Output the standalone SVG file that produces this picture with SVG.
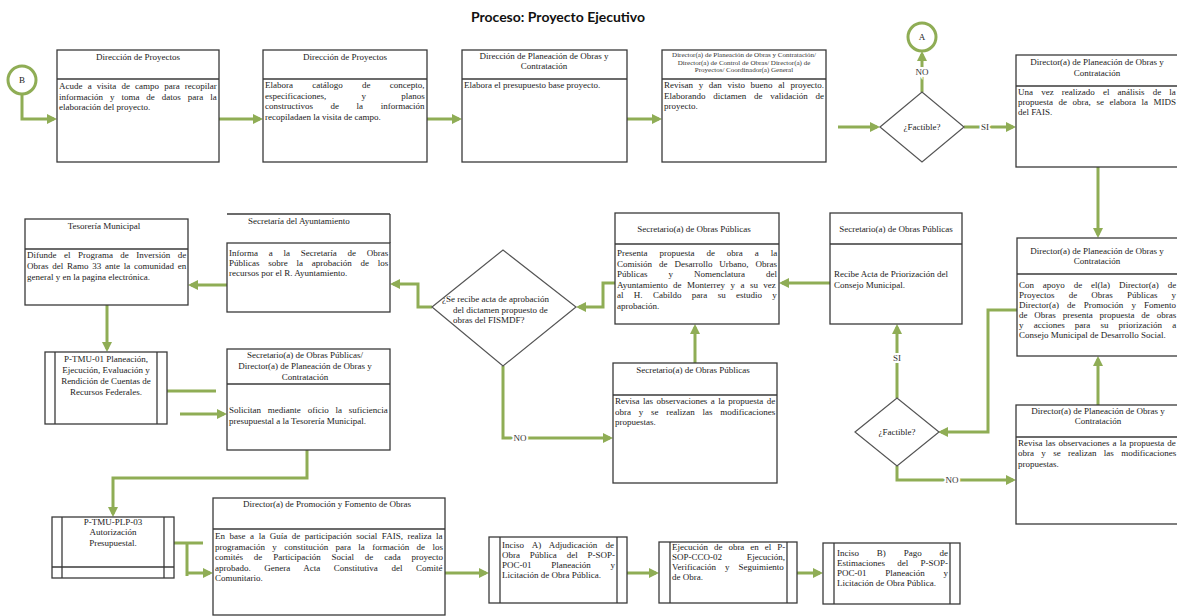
<svg xmlns="http://www.w3.org/2000/svg" width="1177" height="616" viewBox="0 0 1177 616">
<style>
.bx{fill:#fff;stroke:#3a3a3a;stroke-width:1.3}
.ln{fill:none;stroke:#3a3a3a;stroke-width:1.3}
.dm{fill:#fff;stroke:#555;stroke-width:1.2}
.cc{fill:#fff;stroke:#8fad55;stroke-width:3}
.h{font-family:"Liberation Serif",serif;font-size:9px;fill:#222;text-anchor:middle}
.hs{font-family:"Liberation Serif",serif;font-size:7px;fill:#333;text-anchor:middle}
.b{font-family:"Liberation Serif",serif;font-size:9px;fill:#222}
.m{font-family:"Liberation Serif",serif;font-size:9px;fill:#222;text-anchor:middle}
.c{fill:none;stroke:#8fad55;stroke-width:3;stroke-linejoin:miter}
.a{marker-end:url(#ah)}
.lb{font-family:"Liberation Serif",serif;font-size:9px;fill:#333;text-anchor:middle;dominant-baseline:central;stroke:#fff;stroke-width:4;paint-order:stroke}
</style>
<defs>
<marker id="ah" viewBox="0 0 10 10" refX="7" refY="5" markerWidth="10" markerHeight="10" markerUnits="userSpaceOnUse" orient="auto">
<path d="M0,0 L10,5 L0,10 z" fill="#8fad55"/>
</marker>
</defs>
<rect width="1177" height="616" fill="#fff"/>
<text x="558" y="22" text-anchor="middle" font-family="Lato,'Liberation Sans',sans-serif" font-weight="bold" font-size="14" fill="#111">Proceso: Proyecto Ejecutivo</text>

<g id="connectors">
<path class="c a" d="M22,94 V119 H54"/>
<path class="c a" d="M219,119 H260"/>
<path class="c a" d="M427,119 H459"/>
<path class="c a" d="M627,119 H659"/>
<path class="c a" d="M838,127 H877"/>
<path class="c a" d="M922,92 V54"/>
<path class="c a" d="M964,127 H1013"/>
<path class="c a" d="M1098,167 V235"/>
<path class="c a" d="M1098,405 V359"/>
<path class="c a" d="M1017,310 H988 V432 H941"/>
<path class="c a" d="M897,398 V327"/>
<path class="c a" d="M897,466 V480 H1013"/>
<path class="c a" d="M830,283 H782"/>
<path class="c a" d="M695,363 V327"/>
<path class="c a" d="M615,283 H603 V307 H579"/>
<path class="c a" d="M432,307 H418 V284 H393"/>
<path class="c a" d="M503,366 V438 H610"/>
<path class="c a" d="M227,285 H191"/>
<path class="c a" d="M107,305 V349"/>
<path class="c" d="M167,391 H216"/>
<path class="c a" d="M180,414 H224"/>
<path class="c a" d="M307,450 V478 H113 V514"/>
<path class="c" d="M174,543 H203 M187,543 V576"/>
<path class="c a" d="M187,573 H210"/>
<path class="c a" d="M445,573 H486"/>
<path class="c a" d="M627,573 H656"/>
<path class="c a" d="M797,573 H820"/>
<text class="lb" x="922" y="72">NO</text>
<text class="lb" x="985" y="127">SI</text>
<text class="lb" x="897" y="358">SI</text>
<text class="lb" x="952" y="480">NO</text>
<text class="lb" x="520" y="438">NO</text>
</g>

<g id="circleB"><circle class="cc" cx="22" cy="80" r="14"/><text class="m" x="22" y="83">B</text></g>
<g id="circleA"><circle class="cc" cx="922" cy="37" r="14"/><text class="m" x="922" y="40">A</text></g>

<g id="n1">
<rect class="bx" x="57" y="50" width="162" height="112"/><line class="ln" x1="57" y1="79" x2="219" y2="79"/>
<text class="h" x="138" y="60">Dirección de Proyectos</text>
<text class="b" x="59" y="89" word-spacing="2.9">Acude a visita de campo para recopilar</text>
<text class="b" x="59" y="99.5" word-spacing="4.7">información y toma de datos para la</text>
<text class="b" x="59" y="110">elaboración del proyecto.</text>
</g>

<g id="n2">
<rect class="bx" x="263" y="50" width="164" height="112"/><line class="ln" x1="263" y1="79" x2="427" y2="79"/>
<text class="h" x="345" y="60">Dirección de Proyectos</text>
<text class="b" x="265" y="88" word-spacing="17">Elabora catálogo de concepto,</text>
<text class="b" x="265" y="98.5" word-spacing="33">especificaciones, y planos</text>
<text class="b" x="265" y="109" word-spacing="15.3">constructivos de la información</text>
<text class="b" x="265" y="119.5">recopiladaen la visita de campo.</text>
</g>

<g id="n3">
<rect class="bx" x="462" y="50" width="165" height="112"/><line class="ln" x1="462" y1="79" x2="627" y2="79"/>
<text class="h" x="544" y="59">Dirección de Planeación de Obras y</text>
<text class="h" x="544" y="69">Contratación</text>
<text class="b" x="464" y="88">Elabora el presupuesto base proyecto.</text>
</g>

<g id="n4">
<rect class="bx" x="662" y="50" width="164" height="112"/><line class="ln" x1="662" y1="79" x2="826" y2="79"/>
<text class="hs" x="744" y="57">Director(a) de Planeación de Obras y Contratación/</text>
<text class="hs" x="744" y="64.5">Director(a) de Control de Obras/ Director(a) de</text>
<text class="hs" x="744" y="72">Proyectos/ Coordinador(a) General</text>
<text class="b" x="664" y="88" word-spacing="3.4">Revisan y dan visto bueno al proyecto.</text>
<text class="b" x="664" y="98.5" word-spacing="5.5">Elaborando dictamen de validación de</text>
<text class="b" x="664" y="109">proyecto.</text>
</g>

<g id="d1">
<polygon class="dm" points="880,127 922,92 964,127 922,162"/>
<text class="m" x="922" y="130">¿Factible?</text>
</g>

<g id="n5">
<rect class="bx" x="1016" y="55" width="166" height="112"/><line class="ln" x1="1016" y1="86" x2="1182" y2="86"/>
<text class="h" x="1097" y="65">Director(a) de Planeación de Obras y</text>
<text class="h" x="1097" y="76">Contratación</text>
<text class="b" x="1018" y="95" word-spacing="5.9">Una vez realizado el análisis de la</text>
<text class="b" x="1018" y="105" word-spacing="3.3">propuesta de obra, se elabora la MIDS</text>
<text class="b" x="1018" y="115">del FAIS.</text>
</g>

<g id="n6">
<rect class="bx" x="1017" y="238" width="165" height="118"/><line class="ln" x1="1017" y1="274" x2="1182" y2="274"/>
<text class="h" x="1097" y="254">Director(a) de Planeación de Obras y</text>
<text class="h" x="1097" y="264">Contratación</text>
<text class="b" x="1019" y="288" word-spacing="6.6">Con apoyo de el(la) Director(a) de</text>
<text class="b" x="1019" y="298" word-spacing="11.9">Proyectos de Obras Públicas y</text>
<text class="b" x="1019" y="308" word-spacing="5.9">Director(a) de Promoción y Fomento</text>
<text class="b" x="1019" y="318" word-spacing="4.6">de Obras presenta propuesta de obras</text>
<text class="b" x="1019" y="328" word-spacing="7.9">y acciones para su priorización a</text>
<text class="b" x="1019" y="338">Consejo Municipal de Desarrollo Social.</text>
</g>

<g id="n7">
<rect class="bx" x="1016" y="405" width="166" height="119"/><line class="ln" x1="1016" y1="437" x2="1182" y2="437"/>
<text class="h" x="1098" y="414">Director(a) de Planeación de Obras y</text>
<text class="h" x="1098" y="424">Contratación</text>
<text class="b" x="1018" y="446" word-spacing="0.8">Revisa las observaciones a la propuesta de</text>
<text class="b" x="1018" y="456" word-spacing="5.1">obra y se realizan las modificaciones</text>
<text class="b" x="1018" y="467">propuestas.</text>
</g>

<g id="d2">
<polygon class="dm" points="855,432 897,398 939,432 897,466"/>
<text class="m" x="897" y="435">¿Factible?</text>
</g>

<g id="n8">
<rect class="bx" x="830" y="213" width="132" height="111"/><line class="ln" x1="830" y1="244" x2="962" y2="244"/>
<text class="h" x="896" y="232">Secretario(a) de Obras Públicas</text>
<text class="b" x="834" y="277">Recibe Acta de Priorización del</text>
<text class="b" x="834" y="288">Consejo Municipal.</text>
</g>

<g id="n9">
<rect class="bx" x="615" y="213" width="164" height="111"/><line class="ln" x1="615" y1="244" x2="779" y2="244"/>
<text class="h" x="694" y="232">Secretario(a) de Obras Públicas</text>
<text class="b" x="617" y="256" word-spacing="9.7">Presenta propuesta de obra a la</text>
<text class="b" x="617" y="266.5" word-spacing="4.7">Comisión de Desarrollo Urbano, Obras</text>
<text class="b" x="617" y="277" word-spacing="18.8">Públicas y Nomenclatura del</text>
<text class="b" x="617" y="287.5" word-spacing="3.2">Ayuntamiento de Monterrey y a su vez</text>
<text class="b" x="617" y="298" word-spacing="8.1">al H. Cabildo para su estudio y</text>
<text class="b" x="617" y="308.5">aprobación.</text>
</g>

<g id="n11">
<rect class="bx" x="613" y="363" width="164" height="120"/><line class="ln" x1="613" y1="395" x2="777" y2="395"/>
<text class="h" x="693" y="373">Secretario(a) de Obras Públicas</text>
<text class="b" x="615" y="404" word-spacing="1.2">Revisa las observaciones a la propuesta de</text>
<text class="b" x="615" y="414.5" word-spacing="5.5">obra y se realizan las modificaciones</text>
<text class="b" x="615" y="425">propuestas.</text>
</g>

<g id="d3">
<polygon class="dm" points="432,307 503,250 576,307 503,366"/>
<text class="b" x="442" y="302">¿Se recibe acta de aprobación</text>
<text class="b" x="453" y="312.5">del dictamen propuesto de</text>
<text class="b" x="453" y="323">obras del FISMDF?</text>
</g>

<g id="n10">
<line class="ln" x1="227" y1="214" x2="390" y2="214"/><line class="ln" x1="390" y1="214" x2="390" y2="243"/>
<rect class="bx" x="227" y="243" width="163" height="69"/>
<text class="b" x="248" y="224">Secretaría del Ayuntamiento</text>
<text class="b" x="229" y="256" word-spacing="8.5">Informa a la Secretaría de Obras</text>
<text class="b" x="229" y="266" word-spacing="6.5">Públicas sobre la aprobación de los</text>
<text class="b" x="229" y="276">recursos por el R. Ayuntamiento.</text>
</g>

<g id="n12">
<rect class="bx" x="25" y="219" width="163" height="86"/><line class="ln" x1="25" y1="249" x2="188" y2="249"/>
<text class="h" x="104" y="229">Tesorería Municipal</text>
<text class="b" x="27" y="258" word-spacing="5.2">Difunde el Programa de Inversión de</text>
<text class="b" x="27" y="269" word-spacing="1.5">Obras del Ramo 33 ante la comunidad en</text>
<text class="b" x="27" y="280">general y en la pagina electrónica.</text>
</g>

<g id="n13">
<rect class="bx" x="45" y="352" width="122" height="72"/>
<line class="ln" x1="55" y1="352" x2="55" y2="424"/><line class="ln" x1="157" y1="352" x2="157" y2="424"/>
<text class="h" x="106" y="362">P-TMU-01 Planeación,</text>
<text class="h" x="106" y="373">Ejecución, Evaluación y</text>
<text class="h" x="106" y="384">Rendición de Cuentas de</text>
<text class="h" x="106" y="395">Recursos Federales.</text>
</g>

<g id="n14">
<rect class="bx" x="227" y="349" width="163" height="101"/><line class="ln" x1="227" y1="384" x2="390" y2="384"/>
<text class="h" x="305" y="358">Secretario(a) de Obras Públicas/</text>
<text class="h" x="305" y="369">Director(a) de Planeación de Obras y</text>
<text class="h" x="305" y="380">Contratación</text>
<text class="b" x="229" y="413" word-spacing="4.6">Solicitan mediante oficio la suficiencia</text>
<text class="b" x="229" y="424">presupuestal a la Tesorería Municipal.</text>
</g>

<g id="n15">
<rect class="bx" x="52" y="517" width="122" height="61"/>
<line class="ln" x1="62" y1="517" x2="62" y2="578"/><line class="ln" x1="164" y1="517" x2="164" y2="578"/>
<line class="ln" x1="52" y1="567" x2="174" y2="567"/>
<text class="h" x="113" y="525">P-TMU-PLP-03</text>
<text class="h" x="113" y="535">Autorización</text>
<text class="h" x="113" y="546">Presupuestal.</text>
</g>

<g id="n16">
<rect class="bx" x="213" y="498" width="232" height="117"/><line class="ln" x1="213" y1="529" x2="445" y2="529"/>
<text class="h" x="327" y="507">Director(a) de Promoción y Fomento de Obras</text>
<text class="b" x="215" y="539" word-spacing="2.3">En base a la Guía de participación social FAIS, realiza la</text>
<text class="b" x="215" y="549.5" word-spacing="5.1">programación y constitución para la formación de los</text>
<text class="b" x="215" y="560" word-spacing="8.6">comités de Participación Social de cada proyecto</text>
<text class="b" x="215" y="570.5" word-spacing="11.3">aprobado. Genera Acta Constitutiva del Comité</text>
<text class="b" x="215" y="581">Comunitario.</text>
</g>

<g id="n17">
<rect class="bx" x="489" y="537" width="138" height="66"/>
<line class="ln" x1="500" y1="537" x2="500" y2="603"/><line class="ln" x1="617" y1="537" x2="617" y2="603"/>
<text class="b" x="502" y="548" word-spacing="5.9">Inciso A) Adjudicación de</text>
<text class="b" x="502" y="558" word-spacing="7.6">Obra Pública del P-SOP-</text>
<text class="b" x="502" y="568" word-spacing="17.5">POC-01 Planeación y</text>
<text class="b" x="502" y="578">Licitación de Obra Pública.</text>
</g>

<g id="n18">
<rect class="bx" x="659" y="542" width="138" height="61"/>
<line class="ln" x1="670" y1="542" x2="670" y2="603"/><line class="ln" x1="787" y1="542" x2="787" y2="603"/>
<text class="b" x="672" y="550" word-spacing="3.7">Ejecución de obra en el P-</text>
<text class="b" x="672" y="560" word-spacing="22.5">SOP-CCO-02 Ejecución,</text>
<text class="b" x="672" y="570" word-spacing="6.7">Verificación y Seguimiento</text>
<text class="b" x="672" y="580">de Obra.</text>
</g>

<g id="n19">
<rect class="bx" x="823" y="543" width="137" height="61"/>
<line class="ln" x1="834" y1="543" x2="834" y2="604"/><line class="ln" x1="950" y1="543" x2="950" y2="604"/>
<text class="b" x="837" y="556" word-spacing="15.6">Inciso B) Pago de</text>
<text class="b" x="837" y="566" word-spacing="10">Estimaciones del P-SOP-</text>
<text class="b" x="837" y="576" word-spacing="16.5">POC-01 Planeación y</text>
<text class="b" x="837" y="586">Licitación de Obra Pública.</text>
</g>
</svg>
